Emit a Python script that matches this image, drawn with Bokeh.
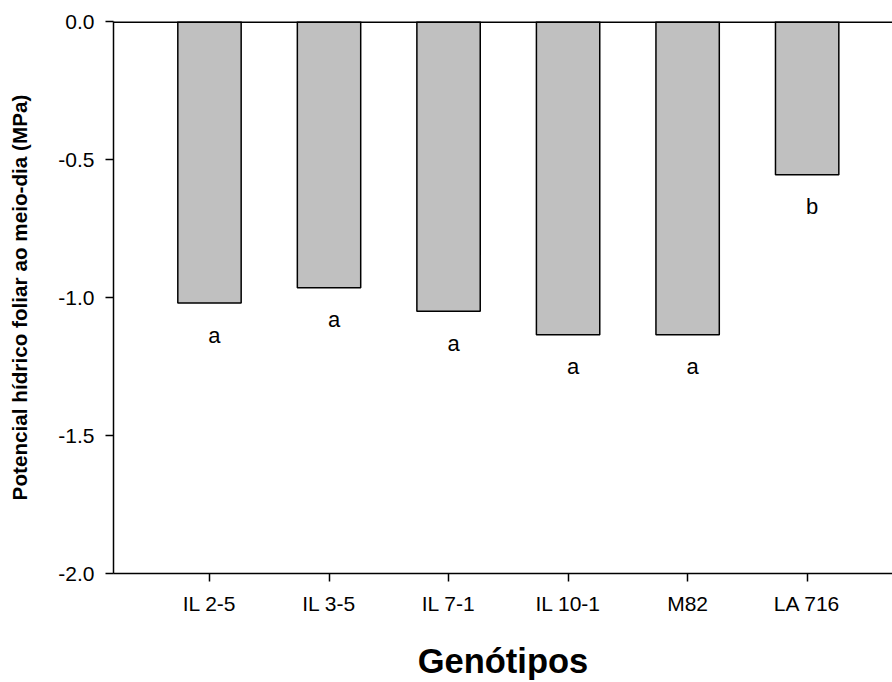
from bokeh.plotting import figure
from bokeh.models import Range1d, FixedTicker, Span, ColumnDataSource, PrintfTickFormatter
from bokeh.core.properties import value
from bokeh.embed import file_html
from bokeh.resources import INLINE

genotypes = ["IL 2-5", "IL 3-5", "IL 7-1", "IL 10-1", "M82", "LA 716"]
potential = [-1.02, -0.965, -1.05, -1.135, -1.135, -0.555]
letters = ["a", "a", "a", "a", "a", "b"]
y_ticks = [0.0, -0.5, -1.0, -1.5, -2.0]

FONT = "Liberation Sans"

xs = list(range(len(genotypes)))
src = ColumnDataSource(dict(x=xs, bottom=potential, label=letters))

p = figure(width=892, height=682,
           x_range=Range1d(-0.803, 5.714), y_range=Range1d(-2.0, 0.0),
           output_backend="svg", toolbar_location=None,
           min_border_left=113, min_border_right=0,
           min_border_top=21, min_border_bottom=108)

p.xgrid.visible = False
p.ygrid.visible = False
p.outline_line_color = None
p.background_fill_color = "white"
p.border_fill_color = "white"

p.vbar(x="x", top=0, bottom="bottom", width=0.53, source=src,
       fill_color="#c0c0c0", line_color="black", line_width=1.5)

p.text(x="x", y="bottom", text="label", source=src,
       x_offset=5, y_offset=32, text_align="center", text_baseline="alphabetic",
       text_font=value(FONT), text_font_size="22px", text_color="black")

p.add_layout(Span(location=0.0, dimension="width", line_color="black", line_width=3))

# Y axis
ya = p.yaxis[0]
ya.ticker = FixedTicker(ticks=y_ticks)
ya.formatter = PrintfTickFormatter(format="%.1f")
ya.axis_label = "Potencial hídrico foliar ao meio-dia (MPa)"
ya.axis_label_text_font = FONT
ya.axis_label_text_font_style = "bold"
ya.axis_label_text_font_size = "20.7px"
ya.axis_label_text_color = "black"
ya.axis_label_standoff = 24
ya.major_label_text_font = FONT
ya.major_label_text_font_size = "21px"
ya.major_label_text_color = "black"
ya.major_label_standoff = 11
ya.major_tick_out = 8
ya.major_tick_in = 0
ya.minor_tick_out = 0
ya.minor_tick_in = 0
ya.axis_line_width = 1.5
ya.major_tick_line_width = 1.5

# X axis
xa = p.xaxis[0]
xa.ticker = FixedTicker(ticks=xs)
xa.major_label_overrides = {i: g for i, g in zip(xs, genotypes)}
xa.axis_label = "Genótipos"
xa.axis_label_text_font = FONT
xa.axis_label_text_font_style = "bold"
xa.axis_label_text_font_size = "34.5px"
xa.axis_label_text_color = "black"
xa.axis_label_standoff = 24
xa.major_label_text_font = FONT
xa.major_label_text_font_size = "21px"
xa.major_label_text_color = "black"
xa.major_label_standoff = 10
xa.major_tick_out = 8
xa.major_tick_in = 0
xa.minor_tick_out = 0
xa.minor_tick_in = 0
xa.axis_line_width = 1.5
xa.major_tick_line_width = 1.5

open("out.html", "w").write(file_html(p, INLINE))
